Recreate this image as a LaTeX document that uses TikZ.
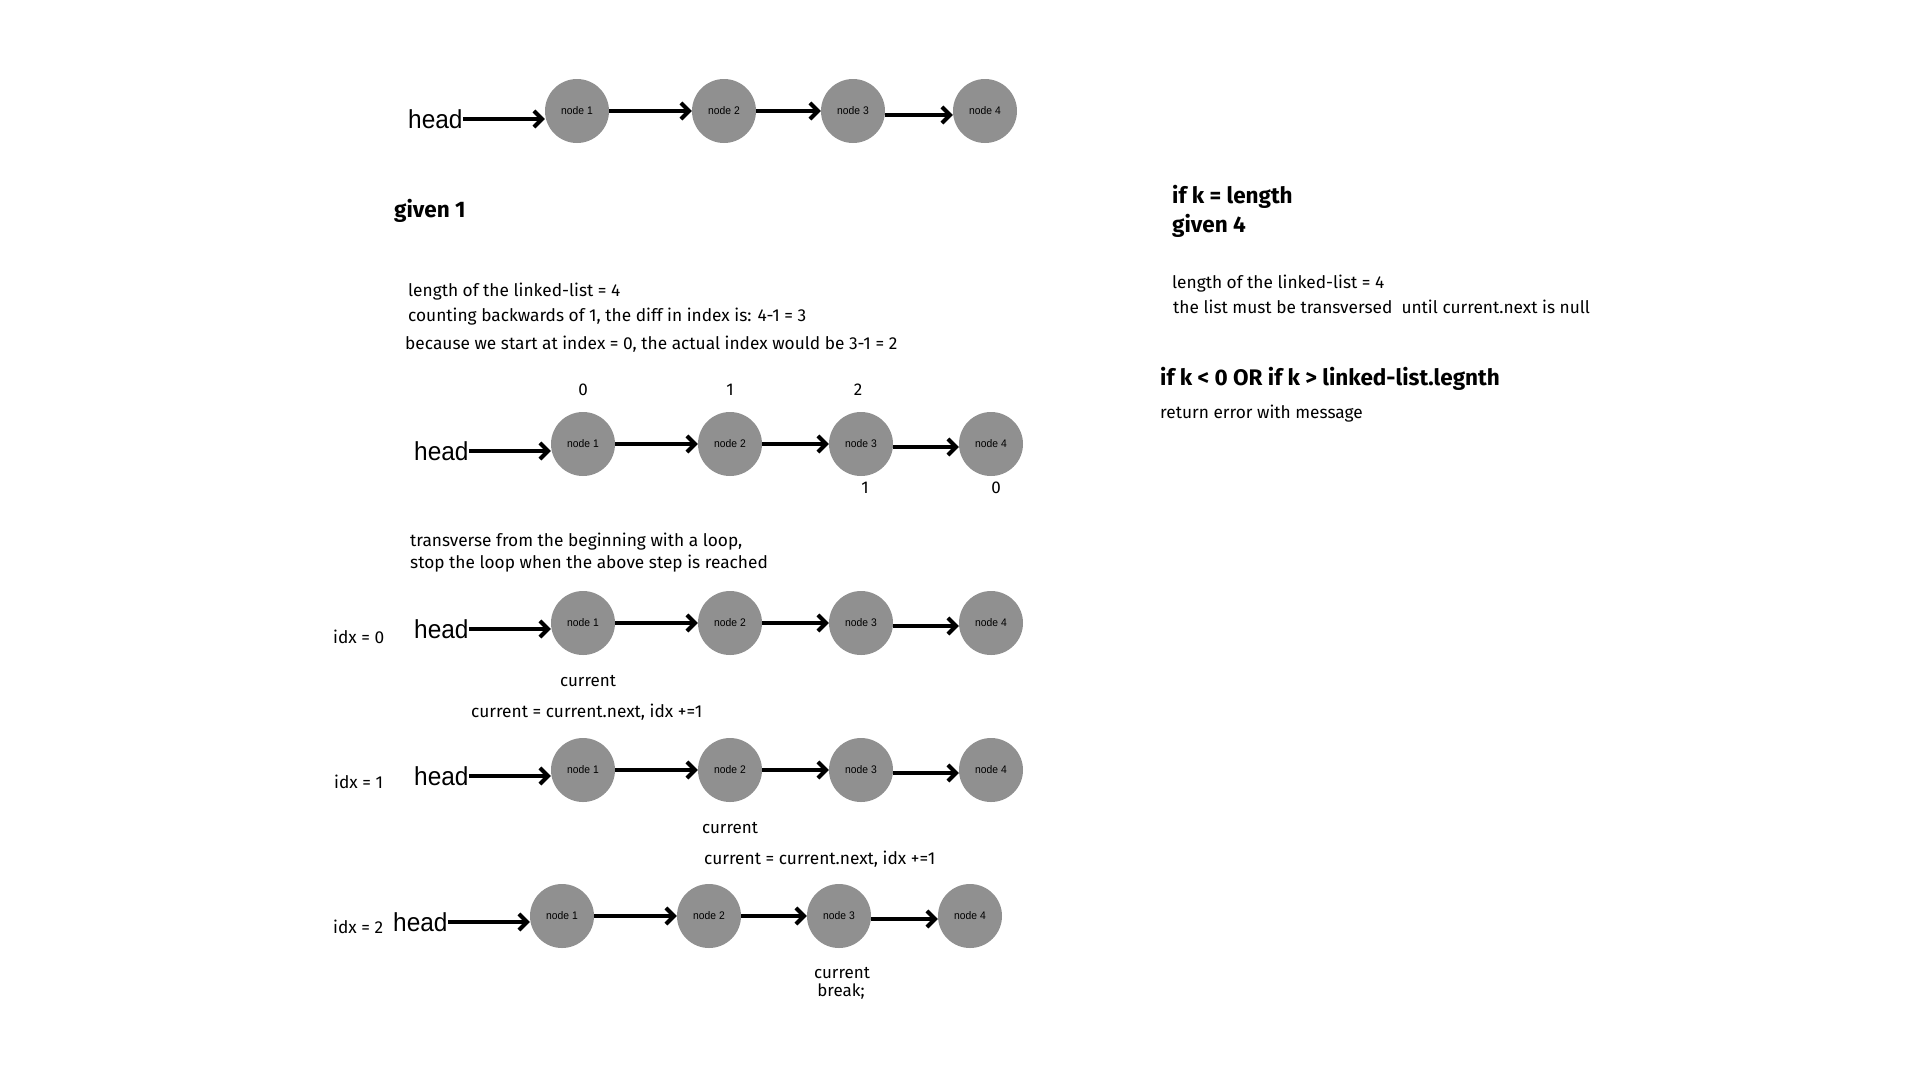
\documentclass[tikz,border=0pt]{standalone}
\usepackage{fontspec}
\setmainfont{Fira Sans}
\newfontfamily\narrowfont[FakeStretch=0.94]{Liberation Sans}
\usetikzlibrary{arrows.meta}
\definecolor{nodegray}{RGB}{144,144,144}

\tikzset{
    listnode/.style={circle, fill=nodegray, minimum size=64pt, inner sep=0pt,
        font=\narrowfont\fontsize{11}{12}\selectfont},
    headlabel/.style={anchor=west, inner sep=0pt, font=\narrowfont\fontsize{26}{28}\selectfont},
    link/.style={line width=4pt, -{Straight Barb[length=8pt,width=16pt]}},
    note/.style={anchor=west, inner sep=0pt, font=\fontsize{17.3}{20}\selectfont},
    idxlabel/.style={inner sep=0pt, font=\fontsize{17}{20}\selectfont},
    title/.style={anchor=west, inner sep=0pt, font=\bfseries\fontsize{22.5}{26}\selectfont}
}

\begin{document}
\begin{tikzpicture}[x=1pt, y=-1pt]
    \useasboundingbox (0,0) rectangle (1920,1080);

    % First list, no labels
    \node[headlabel] (h1) at (408,119) {head};
    \foreach \i/\x in {1/577,2/724,3/853,4/985}
        \node[listnode] (a\i) at (\x,111) {node \i};
    \draw[link] (h1.east) -- (h1.east -| a1.west);
    \draw[link] (a1) -- (a2);
    \draw[link] (a2) -- (a3);
    \draw[link] ([yshift=-4pt]a3.east) -- ([yshift=-4pt]a4.west);

    % Case k = 1
    \node[title] (given1) at (394,211) {given 1};
    \node[note] (len1) at (408,292) {length of the linked-list = 4};
    \node[note] (diff) at (408,317) {counting backwards of 1, the diff in index is: 4-1 = 3};
    \node[note] (actual) at (405,344) {because we start at index = 0, the actual index would be 3-1 = 2};

    % Second list, counted both ways
    \node[headlabel] (h2) at (414,451) {head};
    \foreach \i/\x in {1/583,2/730,3/861,4/991}
        \node[listnode] (b\i) at (\x,444) {node \i};
    \draw[link] (h2.east) -- (h2.east -| b1.west);
    \draw[link] (b1) -- (b2);
    \draw[link] (b2) -- (b3);
    \draw[link] ([yshift=-3pt]b3.east) -- ([yshift=-3pt]b4.west);
    \node[idxlabel] (up0) at (583,390) {0};
    \node[idxlabel] (up1) at (730,390) {1};
    \node[idxlabel] (up2) at (858,390) {2};
    \node[idxlabel] (down1) at (865,488) {1};
    \node[idxlabel] (down0) at (996,488) {0};

    \node[note] (loop1) at (410,542) {transverse from the beginning with a loop,};
    \node[note] (loop2) at (410,564) {stop the loop when the above step is reached};

    % idx = 0
    \node[note] (idx0) at (333,637) {idx = 0};
    \node[headlabel] (h3) at (414,629) {head};
    \foreach \i/\x in {1/583,2/730,3/861,4/991}
        \node[listnode] (c\i) at (\x,623) {node \i};
    \draw[link] (h3.east) -- (h3.east -| c1.west);
    \draw[link] (c1) -- (c2);
    \draw[link] (c2) -- (c3);
    \draw[link] ([yshift=-3pt]c3.east) -- ([yshift=-3pt]c4.west);
    \node[idxlabel] (cur0) at (588,681) {current};
    \node[note] (next0) at (471,712) {current = current.next, idx +=1};

    % idx = 1
    \node[note] (idx1) at (334,782) {idx = 1};
    \node[headlabel] (h4) at (414,776) {head};
    \foreach \i/\x in {1/583,2/730,3/861,4/991}
        \node[listnode] (d\i) at (\x,770) {node \i};
    \draw[link] (h4.east) -- (h4.east -| d1.west);
    \draw[link] (d1) -- (d2);
    \draw[link] (d2) -- (d3);
    \draw[link] ([yshift=-3pt]d3.east) -- ([yshift=-3pt]d4.west);
    \node[idxlabel] (cur1) at (730,828) {current};
    \node[note] (next1) at (704,859) {current = current.next, idx +=1};

    % idx = 2, stop here
    \node[note] (idx2) at (333,927) {idx = 2};
    \node[headlabel] (h5) at (393,922) {head};
    \foreach \i/\x in {1/562,2/709,3/839,4/970}
        \node[listnode] (e\i) at (\x,916) {node \i};
    \draw[link] (h5.east) -- (h5.east -| e1.west);
    \draw[link] (e1) -- (e2);
    \draw[link] (e2) -- (e3);
    \draw[link] ([yshift=-3pt]e3.east) -- ([yshift=-3pt]e4.west);
    \node[idxlabel] (cur2) at (842,973) {current};
    \node[idxlabel] (brk) at (841,992) {break;};

    % Right column: k = length and bad k
    \node[title] (klen) at (1172,197) {if k = length};
    \node[title] (given4) at (1172,226) {given 4};
    \node[note] (len4) at (1172,284) {length of the linked-list = 4};
    \node[note] (null) at (1173,307) {the list must be transversed\ \ until current.next is null};
    \node[title] (bad) at (1160,379) {if k < 0 OR if k > linked-list.legnth};
    \node[note] (err) at (1160,414) {return error with message};
\end{tikzpicture}
\end{document}
